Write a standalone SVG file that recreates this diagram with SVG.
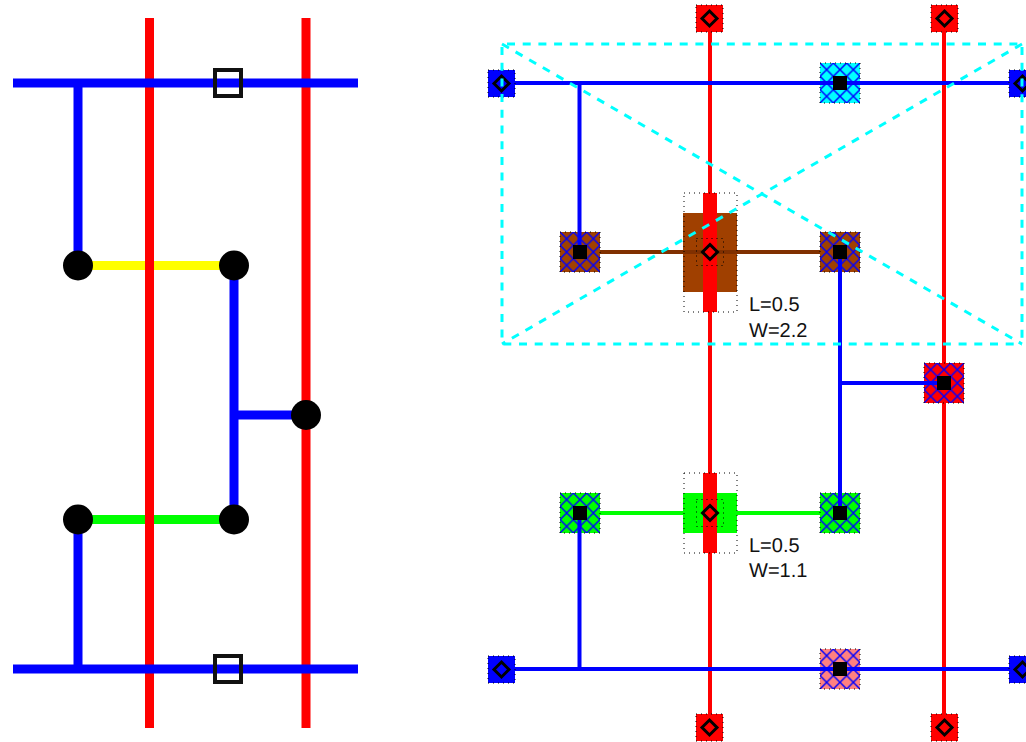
<svg xmlns="http://www.w3.org/2000/svg" width="1026" height="742" viewBox="0 0 1026 742">
<style>
text{text-rendering:geometricPrecision}
.thick{fill:none;stroke-width:9}
.thin{fill:none;stroke-width:4}
.b{stroke:#0000ff}.r{stroke:#ff0000}.y{stroke:#ffff00}.g{stroke:#00ff00}.br{stroke:#803000}
.dot{fill:none;stroke:#000;stroke-width:1;stroke-dasharray:1 4}
.dia{fill:none;stroke:#000;stroke-width:3}
.lbl{font:20px "Liberation Sans",Arial,sans-serif;fill:#111}
.cy{fill:none;stroke:#00ffff;stroke-width:3;stroke-dasharray:8 7.7}
</style>
<defs>
<pattern id="hatch" width="0.33333" height="0.33333" patternContentUnits="userSpaceOnUse">
<path d="M0 0L13.33 13.33M13.33 0L0 13.33" fill="none" stroke="#0000ff" stroke-width="1.500"/>
</pattern>
<g id="contact"><rect x="-13.500" y="-13.500" width="27" height="27" class="dot"/><path d="M0 -7.500L7.500 0L0 7.500L-7.500 0Z" class="dia"/></g>
<g id="via"><rect x="-20" y="-20" width="40" height="40" fill="url(#hatch)"/><rect x="-20" y="-20" width="40" height="40" class="dot"/></g>
<rect id="hole" x="-7" y="-7" width="14" height="14" fill="#000"/>
</defs>
<rect width="1026" height="742" fill="#fff"/>

<g id="connectors-left">
<path class="thick y" d="M78 265.500H234"/>
<path class="thick g" d="M78 519.500H234"/>
<path class="thick r" d="M149.500 18V728M306 18V728"/>
<path class="thick b" d="M13 83H358M13 669H358M78 83V265M78 519V669M234 265V519M234 415H306"/>
</g>
<g id="left-nodes">
<rect id="l-sq-top" x="215" y="70" width="26" height="26" fill="none" stroke="#111" stroke-width="4"/>
<rect id="l-sq-bottom" x="215" y="656" width="26" height="26" fill="none" stroke="#111" stroke-width="4"/>
<circle id="l-c1" cx="78" cy="265.500" r="15"/>
<circle id="l-c2" cx="234" cy="265.500" r="15"/>
<circle id="l-c3" cx="306" cy="415" r="15"/>
<circle id="l-c4" cx="78" cy="519.500" r="15"/>
<circle id="l-c5" cx="234" cy="519.500" r="15"/>
</g>

<g id="connectors-right">
<path class="thin r" d="M710 18V728M944 18V728"/>
<path class="thin br" d="M580 252H840"/>
<path class="thin g" d="M580 513H840"/>
</g>
<g id="gate-brown">
<rect x="683" y="213" width="54" height="79" fill="#a04000"/>
<path d="M683 252H737" class="thin br"/>
<rect x="703" y="193" width="14" height="119" fill="#ff0000"/>
<rect x="684" y="193" width="53" height="119" class="dot"/>
<use href="#contact" x="710" y="252"/>
</g>
<g id="gate-green">
<rect x="683" y="493" width="54" height="40" fill="#00ff00"/>
<rect x="703" y="473" width="14" height="80" fill="#ff0000"/>
<rect x="684" y="473" width="53" height="80" class="dot"/>
<use href="#contact" x="710" y="513"/>
</g>
<g id="via-cyan"><rect x="820" y="63" width="40" height="40" fill="#00ffff"/><use href="#via" x="840" y="83"/></g>
<g id="via-pink"><rect x="820" y="649" width="40" height="40" fill="#ff8080"/><use href="#via" x="840" y="669"/></g>
<g id="via-brown-l"><rect x="560" y="232" width="40" height="40" fill="#a04000"/><use href="#via" x="580" y="252"/></g>
<g id="via-brown-r"><rect x="820" y="232" width="40" height="40" fill="#a04000"/><use href="#via" x="840" y="252"/></g>
<g id="via-red"><rect x="924" y="363" width="40" height="40" fill="#ff0000"/><use href="#via" x="944" y="383"/></g>
<g id="via-green-l"><rect x="560" y="493" width="40" height="40" fill="#00ff00"/><use href="#via" x="580" y="513"/></g>
<g id="via-green-r"><rect x="820" y="493" width="40" height="40" fill="#00ff00"/><use href="#via" x="840" y="513"/></g>
<g id="connectors-metal">
<path class="thin b" d="M502 83H1026M502 669H1026M579.500 83V245M840 259V506M840 383H937M579.500 520V669"/>
</g>
<g id="contacts-blue">
<g id="cb1"><rect x="488" y="70" width="27" height="27" fill="#0000ff"/><use href="#contact" x="501.500" y="83.500"/></g>
<g id="cb2"><rect x="1009" y="70" width="27" height="27" fill="#0000ff"/><use href="#contact" x="1022.500" y="83.500"/></g>
<g id="cb3"><rect x="488" y="656" width="27" height="27" fill="#0000ff"/><use href="#contact" x="501.500" y="669.500"/></g>
<g id="cb4"><rect x="1009" y="656" width="27" height="27" fill="#0000ff"/><use href="#contact" x="1022.500" y="669.500"/></g>
</g>
<g id="contacts-red">
<g id="cr1"><rect x="696" y="5" width="27" height="27" fill="#ff0000"/><use href="#contact" x="709.500" y="18.500"/></g>
<g id="cr2"><rect x="931" y="5" width="27" height="27" fill="#ff0000"/><use href="#contact" x="944.500" y="18.500"/></g>
<g id="cr3"><rect x="696" y="714" width="27" height="27" fill="#ff0000"/><use href="#contact" x="709.500" y="727.500"/></g>
<g id="cr4"><rect x="931" y="714" width="27" height="27" fill="#ff0000"/><use href="#contact" x="944.500" y="727.500"/></g>
</g>
<g id="via-holes">
<use href="#hole" x="840" y="83"/><use href="#hole" x="840" y="669"/><use href="#hole" x="580" y="252"/><use href="#hole" x="840" y="252"/><use href="#hole" x="944" y="383"/><use href="#hole" x="580" y="513"/><use href="#hole" x="840" y="513"/>
</g>
<g id="cell-outline">
<path d="M502 44H1022V344" class="cy" stroke-dashoffset="10.7"/>
<path d="M502 44V344H1022" class="cy" stroke-dashoffset="12.7"/>
<path class="cy" d="M502 44L1022 344M1022 44L502 344"/>
</g>
<g id="labels">
<text class="lbl" x="749" y="311">L=0.5</text>
<text class="lbl" x="749" y="337">W=2.2</text>
<text class="lbl" x="749" y="552">L=0.5</text>
<text class="lbl" x="749" y="577">W=1.1</text>
</g>
</svg>
